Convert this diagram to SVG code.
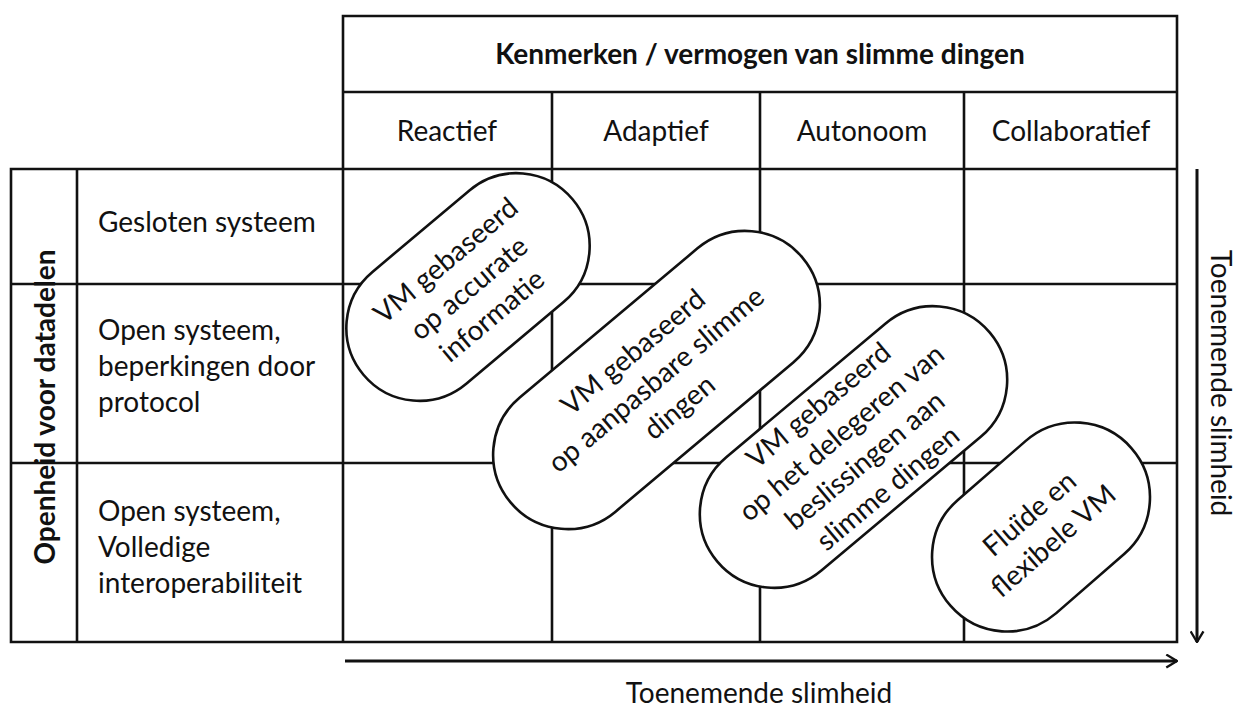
<svg xmlns="http://www.w3.org/2000/svg" width="1237" height="708" viewBox="0 0 1237 708">
<style>
  text { font-family: Lato, "Liberation Sans", sans-serif; font-size: 28px; fill: #111; }
  .b { font-weight: bold; }
  .m { text-anchor: middle; }
  .grid { stroke: #111; stroke-width: 2.6; fill: none; stroke-linecap: square; }
  .pill { fill: #fff; stroke: #111; stroke-width: 2.6; }
  .arrow { stroke: #111; stroke-width: 3; fill: none; marker-end: url(#ah); }
</style>
<defs>
  <marker id="ah" viewBox="0 0 12 14" refX="11" refY="7" markerWidth="4.3" markerHeight="5" orient="auto" markerUnits="strokeWidth">
    <path d="M1,1 L11,7 L1,13" fill="none" stroke="#111" stroke-width="2.2" stroke-linejoin="miter"/>
  </marker>
</defs>
<rect width="1237" height="708" fill="#fff"/>

<g id="table">
  <path class="grid" d="M343,16 H1177 V642 H11 V169 H1177 M343,92 H1177 M343,16 V642 M552,92 V642 M760,92 V642 M964,92 V642 M77,169 V642 M11,284 H1177 M11,463 H1177"/>
  <text class="b m" x="760" y="64">Kenmerken / vermogen van slimme dingen</text>
  <text class="m" x="447" y="141">Reactief</text>
  <text class="m" x="656" y="141">Adaptief</text>
  <text class="m" x="862" y="141">Autonoom</text>
  <text class="m" x="1071" y="141">Collaboratief</text>
  <text x="98" y="232">Gesloten systeem</text>
  <text x="98" y="340">Open systeem,</text>
  <text x="98" y="376">beperkingen door</text>
  <text x="98" y="412">protocol</text>
  <text x="98" y="521">Open systeem,</text>
  <text x="98" y="557">Volledige</text>
  <text x="98" y="593">interoperabiliteit</text>
  <text class="b m" transform="translate(55,407) rotate(-90)">Openheid voor datadelen</text>
</g>

<g id="pill1">
  <g transform="translate(468,287) rotate(-40)">
    <rect class="pill" x="-136.5" y="-73" width="273" height="146" rx="73"/>
    <text class="m" x="0" y="-25">VM gebaseerd</text>
    <text class="m" x="0" y="11">op accurate</text>
    <text class="m" x="0" y="47">informatie</text>
  </g>
</g>
<g id="pill2">
  <g transform="translate(656.5,380) rotate(-40)">
    <rect class="pill" x="-190.5" y="-74.5" width="381" height="149" rx="74.5"/>
    <text class="m" x="0" y="-27">VM gebaseerd</text>
    <text class="m" x="0" y="9">op aanpasbare slimme</text>
    <text class="m" x="0" y="45">dingen</text>
  </g>
</g>
<g id="pill3">
  <g transform="translate(853.5,447) rotate(-40)">
    <rect class="pill" x="-178" y="-74" width="356" height="148" rx="74"/>
    <text class="m" x="0" y="-45">VM gebaseerd</text>
    <text class="m" x="0" y="-9">op het delegeren van</text>
    <text class="m" x="0" y="27">beslissingen aan</text>
    <text class="m" x="0" y="63">slimme dingen</text>
  </g>
</g>
<g id="pill4">
  <g transform="translate(1041,527) rotate(-41)">
    <rect class="pill" x="-120" y="-75" width="240" height="150" rx="75"/>
    <text class="m" x="0" y="-8">Fluïde en</text>
    <text class="m" x="0" y="28">flexibele VM</text>
  </g>
</g>

<g id="connectors">
  <line class="arrow" x1="345" y1="661" x2="1177" y2="661"/>
  <line class="arrow" x1="1197" y1="169" x2="1197" y2="642"/>
</g>
<text class="m" x="759" y="703">Toenemende slimheid</text>
<text class="m" transform="translate(1211,383) rotate(90)">Toenemende slimheid</text>
</svg>
